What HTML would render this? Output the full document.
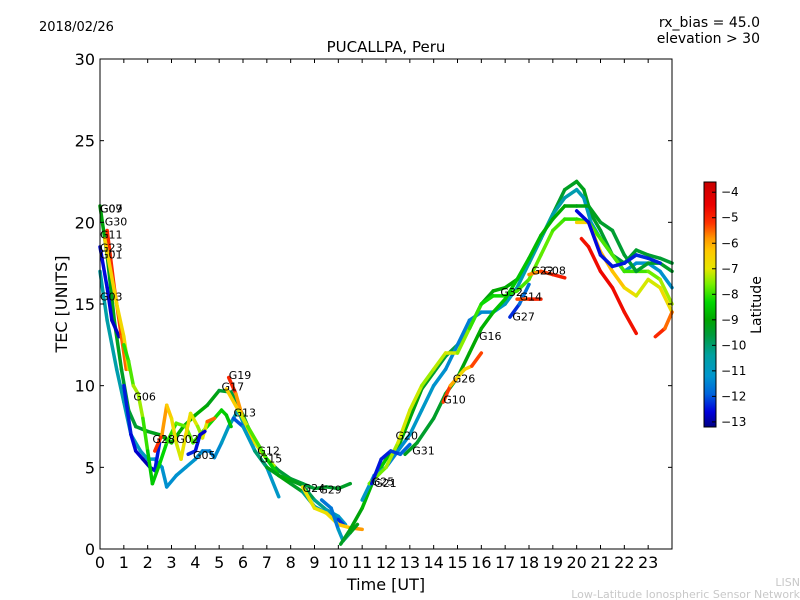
<!DOCTYPE html>
<html><head><meta charset="utf-8"><style>
body{margin:0;background:#fff;}
svg{display:block;font-family:"DejaVu Sans","Liberation Sans",sans-serif;}
</style></head><body>
<svg id="chart" width="800" height="600" xmlns="http://www.w3.org/2000/svg">
<defs>
<linearGradient id="cbg" x1="0" y1="1" x2="0" y2="0">
</linearGradient>
</defs>
<text x="39" y="31" font-size="13">2018/02/26</text>
<text x="760" y="27" font-size="14" text-anchor="end">rx_bias = 45.0</text>
<text x="760" y="43" font-size="14" text-anchor="end">elevation &gt; 30</text>
<text x="386" y="52" font-size="15" text-anchor="middle">PUCALLPA, Peru</text>
<g id="traces"></g>
<g id="labels"></g>
<rect x="100" y="59" width="572" height="490" fill="none" stroke="#000" stroke-width="1"/>
<g id="axes"></g>
<text x="386" y="590" font-size="16" text-anchor="middle">Time [UT]</text>
<text x="67" y="304" font-size="16" text-anchor="middle" transform="rotate(-90 67 304)">TEC [UNITS]</text>
<rect x="704" y="182" width="12" height="245" fill="url(#cbg)" stroke="#000" stroke-width="1"/>
<g id="cbaxis"></g>
<text x="761" y="305" font-size="14" text-anchor="middle" transform="rotate(-90 761 305)">Latitude</text>
<text x="800" y="586" font-size="11" fill="#c8c8c8" text-anchor="end">LISN</text>
<text x="800" y="598" font-size="11" fill="#c8c8c8" text-anchor="end">Low-Latitude Ionospheric Sensor Network</text>
</svg>
<script>
const xTicks=[0,1,2,3,4,5,6,7,8,9,10,11,12,13,14,15,16,17,18,19,20,21,22,23];
const yTicks=[0,5,10,15,20,25,30];
const cbTicks=[-4,-5,-6,-7,-8,-9,-10,-11,-12,-13];
const traceTimes=[
[0,0.3,0.6,0.9,1.2,1.5,2,2.5,3,3.5,4,4.5,5,5.5,6,6.5,7,7.5,8,8.5,9,9.5,10,10.5],
[0,0.3,0.7,1,1.3,1.7,2,2.3,2.6,2.8,3.2,3.6,4,4.3,4.6,4.8,5.1,5.4,5.8,6.2,6.5,7,7.5],
[0,0.3,0.5,0.8],
[1,1.3,1.5,1.8,2.1,2.3,2.5],
[0.3,0.6,0.9,1.1],
[0.2,0.7,1,1.2],
[1,1.2,1.4,1.6,1.8,2,2.2,2.5,2.8,3.2,3.6,3.9,4.5,5.1,5.3,5.5],
[2.3,2.6,2.8,3,3.2,3.4,3.6,3.8,4.1,4.3,4.5,4.8],
[3.7,4,4.2,4.4],
[5.4,5.7,6,6.5,7,7.3],
[5.3,5.8,6.2,7,7.5,8,8.5,9,9.5,10,10.3],
[5.6,6,6.5,7,7.5,8,8.5,9,9.5,10,10.2],
[8.5,9,9.5,10,10.5,11],
[9.3,9.7,10,10.2,10.5,10.8],
[10.1,10.5,11,11.5,12,12.5,13,13.5,14,14.5,15,15.5,16,16.5,17,17.5,18,18.5,19,19.5,20,20.3,20.6,21,21.5,22,22.5,23,23.5,24],
[11,11.5,12,12.5,13,13.5,14,14.5,15,15.5,16,16.5,17,17.5,18,18.5,19,19.5,20,20.3,20.6,21,21.5,22,22.5,23,23.5,24],
[11.3,12,12.5,13,13.5,14,14.5,15,15.5,16,16.5,17,17.5,18,18.5,19,19.5,20,20.5,21,21.5,22,22.5,23,23.5,24],
[12.8,13.3,14,14.5,15,15.5,16,16.5,17,17.5,18,18.5,19,19.5,20,20.5,21,21.5,22,22.5,23,23.5,24],
[11.4,11.8,12.2,12.6,13],
[14.4,14.7,15,15.3,15.6,16],
[17.2,17.6,18],
[17.5,18,18.5],
[18,18.5,19,19.5],
[20,20.5,21,21.5,22,22.5,23,23.5,24],
[20.2,20.5,21,21.5,22,22.5],
[23.3,23.7,24],
[20,20.5,21,21.5,22,22.5,23,23.5]
];
const traceTec=[
[21,18,14,11,8.5,7.5,7.2,7,6.5,7.5,8.2,8.8,9.7,9.6,8.2,6.5,5.5,4.8,4.3,4,3.7,3.8,3.7,4],
[17,14,11,9,7,6,5.5,5.5,5,3.8,4.5,5,5.5,6,6,5.6,6.5,7.5,8.5,7,6,5,3.2],
[18.5,16,14,13],
[10,7,6,5.5,5,4.8,6.5],
[19.5,16,13,11],
[19,15,13,11],
[12.5,11.5,10,9.5,8,6,4,5.2,6.5,7.7,7.5,6.5,7.5,8.5,8.2,7.5],
[6,7,8.8,8,6.5,5.5,7,8.3,7.5,6.8,7.8,8],
[5.8,6,7,7.2],
[10.5,9.5,8,6.5,5.5,5.1],
[9.8,8.5,7.5,5.5,4.5,4.2,3.9,3,2.4,2,1.5],
[8,7.5,6,5,4.5,4,3.5,2.6,2.2,1.8,1.5],
[3.8,2.5,2.2,1.5,1.3,1.2],
[3,2.5,1.2,0.5,1,1.5],
[0.3,1.2,2.5,4.3,5.5,6.2,8,9.8,10.8,11.8,12.5,13.5,15,15.8,16,16.5,17.5,19,20.5,22,22.5,22,20.5,19.5,18,17.5,18.3,18,17.8,17.5],
[3,4.5,5,6,7,8.5,10,11,12.5,14,14.5,14.5,15,16,17.5,19,20.5,21.5,22,21.5,20,19,18,17,17.5,17.5,17,16],
[4,5,6.5,8.5,10,11,12,12,13.5,15,15.5,15.5,15.8,16.5,18,19.5,20.2,20.2,20,19,18,17,17,17,16.5,15],
[5.8,6.5,8,9.5,10.5,12,13.5,14.5,15.3,16.5,17.8,19.2,20.2,21,21,21,20,19.5,18,17,17.5,17.5,17],
[4,5.5,6,5.8,6.4],
[9,10,10.5,11,11.2,12],
[14.2,15,16.2],
[15.3,15.3,15.3],
[16.8,17,16.8,16.6],
[20,20,18.2,17,16,15.5,16.5,16,14.5],
[19,18.5,17,16,14.5,13.2],
[13,13.5,14.5],
[20.7,20,18,17.3,17.5,18,17.8,17.5]
];
const traceLat=[
[-9,-9.2,-9.3,-9.3,-9.5,-9.5,-9.4,-9.2,-9,-8.8,-8.8,-9,-9.4,-9.6,-9.6,-9.5,-9.6,-9.6,-9.5,-9.6,-9.5,-9.4,-9.5,-9.3],
[-10.5,-10.5,-10.6,-10.7,-10.8,-11,-11,-11,-11.2,-11.3,-11.3,-11.2,-11.2,-11.4,-11.6,-11.5,-11.2,-10.8,-10.6,-10.8,-10.9,-11,-11.2],
[-12.5,-12.6,-12.7,-12.8],
[-12.3,-12.5,-12.6,-12.8,-12.9,-12.6,-12.3],
[-5,-5.2,-5.4,-5.6],
[-6.5,-6.6,-6.7,-6.8],
[-8,-8.2,-7.5,-7.2,-7.6,-8.4,-8.6,-8.4,-8.2,-7.9,-7.6,-7.8,-8.1,-8.3,-8.5,-8.6],
[-4.8,-5.5,-6.2,-6.6,-7,-7.2,-6.6,-6.8,-7.3,-7.6,-6.5,-4.5],
[-12.3,-12.4,-12.6,-12.8],
[-4.5,-5.5,-6.2,-6.8,-7.2,-7.4],
[-6,-6.8,-7.5,-8.2,-8.6,-9,-9.5,-10,-10.5,-11,-11.2],
[-12.5,-11.5,-10.5,-9.5,-9,-9.2,-9.6,-10.8,-11.3,-12,-12.5],
[-7,-6.8,-7,-6.5,-6.2,-5.5],
[-11.5,-11.8,-11.5,-10.5,-9.5,-9],
[-9.5,-9.2,-9,-8.5,-8.5,-8.8,-9,-9.3,-9.5,-9.6,-9.8,-9.5,-9.2,-9,-8.9,-9,-9.2,-9.5,-9.5,-9.4,-9.3,-9.2,-9.3,-9.4,-9.5,-9.5,-9.4,-9.5,-9.5,-9.5],
[-11,-11.2,-11.5,-11.4,-11.2,-11,-11.2,-11.3,-11.5,-11.6,-11.5,-11.2,-11,-10.8,-10.6,-10.5,-10.5,-10.6,-10.7,-10.8,-11,-11.2,-11.3,-11.4,-11.3,-11.2,-11.2,-11.3],
[-7.8,-7.5,-7.2,-7,-7.3,-7.5,-7,-7.2,-7.8,-8.2,-8.3,-8.2,-8,-7.8,-7.7,-7.8,-8,-8.1,-8,-7.9,-7.8,-7.9,-8,-7.8,-7.5,-7.2],
[-9.2,-9.4,-9.5,-9.3,-9.2,-9,-8.9,-8.7,-8.5,-8.5,-8.6,-8.8,-8.9,-9,-9.1,-9.2,-9.4,-9.5,-9.5,-9.5,-9.4,-9.4,-9.4],
[-12.4,-12.5,-12.3,-12,-11.8],
[-5,-5.5,-6.5,-6.8,-6,-4.6],
[-12.6,-12,-11.5],
[-5.5,-5.2,-4.8],
[-6,-5.5,-5,-4.8],
[-6.5,-6.6,-6.3,-6,-6.5,-7,-7.2,-7,-6.5],
[-4.8,-4.7,-4.6,-4.6,-4.7,-4.8],
[-4.8,-5.3,-5.8],
[-12.5,-12.6,-12.5,-12.4,-12.5,-12.3,-12.3,-12.4]
];
const labelNames=["G07","G09","G30","G11","G23","G01","G03","G06","G28","G02","G05","G19","G17","G13","G12","G15","G24","G29","G25","G21","G20","G31","G10","G26","G16","G27","G32","G14","G22","G08"];
const labelTimes=[0,0,0.2,0,0,0,0,1.4,2.2,3.2,3.9,5.4,5.1,5.6,6.6,6.7,8.5,9.2,11.4,11.5,12.4,13.1,14.4,14.8,15.9,17.3,16.8,17.6,18.1,18.6];
const labelTec=[20.6,20.6,19.8,19,18.2,17.8,15.2,9.1,6.5,6.5,5.5,10.4,9.7,8.1,5.8,5.3,3.5,3.4,3.9,3.8,6.7,5.8,8.9,10.2,12.8,14,15.5,15.2,16.8,16.8];
const SVGNS="http://www.w3.org/2000/svg";
const px=t=>100+t*572/24, py=v=>549-v*490/30;
const stops=[[-13.2,[0,0,130]],[-12.6,[0,0,220]],[-11.9,[0,100,220]],[-11.2,[0,150,205]],[-10.4,[0,160,160]],[-9.6,[0,155,60]],[-9,[0,165,0]],[-8.3,[0,215,0]],[-7.6,[120,240,0]],[-7,[230,230,0]],[-6.3,[255,200,0]],[-5.8,[255,150,0]],[-5.2,[255,50,0]],[-4.5,[235,0,0]],[-3.6,[200,0,0]]];
function col(l){if(l<=stops[0][0])return "rgb("+stops[0][1]+")";for(let i=1;i<stops.length;i++){if(l<=stops[i][0]){const a=stops[i-1],b=stops[i],f=(l-a[0])/(b[0]-a[0]);return "rgb("+a[1].map((c,k)=>Math.round(c+(b[1][k]-c)*f)).join(",")+")";}}return "rgb("+stops[stops.length-1][1]+")";}
const grad=document.getElementById('cbg');
stops.forEach(s=>{const st=document.createElementNS(SVGNS,'stop');st.setAttribute('offset',((s[0]+13.2)/9.6).toFixed(3));st.setAttribute('stop-color',col(s[0]));grad.appendChild(st);});
const tg=document.getElementById('traces');
traceTimes.forEach((ts,i)=>{
  for(let j=0;j<ts.length-1;j++){
    const ln=document.createElementNS(SVGNS,'line');
    ln.setAttribute('x1',px(ts[j]));ln.setAttribute('y1',py(traceTec[i][j]));
    ln.setAttribute('x2',px(ts[j+1]));ln.setAttribute('y2',py(traceTec[i][j+1]));
    ln.setAttribute('stroke',col((traceLat[i][j]+traceLat[i][j+1])/2));
    ln.setAttribute('stroke-width','3.5');ln.setAttribute('stroke-linecap','round');
    
    
    tg.appendChild(ln);
  }
});
const lg=document.getElementById('labels');
labelNames.forEach((n,i)=>{
  const t=document.createElementNS(SVGNS,'text');
  t.setAttribute('x',px(labelTimes[i]));t.setAttribute('y',py(labelTec[i]));
  t.setAttribute('font-size','11');t.textContent=n;
  
  
  lg.appendChild(t);
});
const ag=document.getElementById('axes');
xTicks.forEach(v=>{
  const x=px(v);
  [[549,545],[59,63]].forEach(p=>{const l=document.createElementNS(SVGNS,'line');l.setAttribute('x1',x);l.setAttribute('x2',x);l.setAttribute('y1',p[0]);l.setAttribute('y2',p[1]);l.setAttribute('stroke','#000');
  
  
  ag.appendChild(l);});
  const t=document.createElementNS(SVGNS,'text');t.setAttribute('x',x);t.setAttribute('y',568);t.setAttribute('font-size','16');t.setAttribute('text-anchor','middle');t.textContent=v;
  
  
  ag.appendChild(t);
});
yTicks.forEach(v=>{
  const y=py(v);
  [[100,104],[672,668]].forEach(p=>{const l=document.createElementNS(SVGNS,'line');l.setAttribute('x1',p[0]);l.setAttribute('x2',p[1]);l.setAttribute('y1',y);l.setAttribute('y2',y);l.setAttribute('stroke','#000');
  
  
  ag.appendChild(l);});
  const t=document.createElementNS(SVGNS,'text');t.setAttribute('x',95);t.setAttribute('y',y+6);t.setAttribute('font-size','16');t.setAttribute('text-anchor','end');t.textContent=v;
  
  
  ag.appendChild(t);
});
const cg=document.getElementById('cbaxis');
cbTicks.forEach(v=>{
  const y=427-(v+13.2)*245/9.6;
  const l=document.createElementNS(SVGNS,'line');l.setAttribute('x1',712);l.setAttribute('x2',716);l.setAttribute('y1',y);l.setAttribute('y2',y);l.setAttribute('stroke','#000');
  
  
  cg.appendChild(l);
  const t=document.createElementNS(SVGNS,'text');t.setAttribute('x',721);t.setAttribute('y',y+4);t.setAttribute('font-size','12');t.textContent='\u2212'+Math.abs(v);
  
  
  cg.appendChild(t);
});
</script>
</body></html>
